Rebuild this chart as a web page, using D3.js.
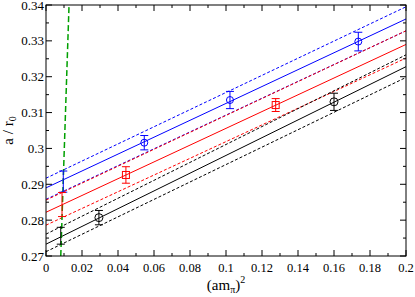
<!DOCTYPE html>
<html>
<head>
<meta charset="utf-8">
<script src="https://cdn.jsdelivr.net/npm/d3@7"></script>
<style>
  body { margin: 0; background: #fff; }
  svg { display: block; }
  text { font-family: "Liberation Serif", "DejaVu Serif", serif; }
</style>
</head>
<body>
<svg id="chart" width="415" height="297"></svg>
<script>
// measured points: [x, y, err]
const bluePts = [[0.0546, 0.3016, 0.0020], [0.1022, 0.3135, 0.0024], [0.1735, 0.3298, 0.0026]];
const redPts = [[0.0444, 0.2926, 0.0023], [0.1276, 0.3121, 0.0018]];
const blackPts = [[0.0294, 0.2807, 0.0020], [0.1600, 0.3130, 0.0024]];

// fit lines: [y at x=0, y at x=0.2]
const blueFit = { mid: [0.2890, 0.3361], hi: [0.2917, 0.3395], lo: [0.2858, 0.3328] };
const redFit = { mid: [0.2822, 0.3290], hi: [0.2856, 0.3328], lo: [0.2786, 0.3252] };
const blackFit = { mid: [0.2733, 0.3228], hi: [0.2761, 0.3261], lo: [0.2712, 0.3198] };

// extrapolated values at physical pion mass
const extrap = [
  { x: 0.0096, lo: 0.2878, hi: 0.2937, color: "#0000ff" },
  { x: 0.0089, lo: 0.2810, hi: 0.2877, color: "#ff0000" },
  { x: 0.0082, lo: 0.2733, hi: 0.2780, color: "#000000" }
];

const greenLine = [[0.0082, 0.27], [0.0128, 0.34]];

const xTicks = [0, 0.02, 0.04, 0.06, 0.08, 0.1, 0.12, 0.14, 0.16, 0.18, 0.2];
const yTicks = [0.27, 0.28, 0.29, 0.3, 0.31, 0.32, 0.33, 0.34];

const svg = d3.select("#chart");
const margin = { top: 5, right: 9, bottom: 41, left: 46 };
const width = 415, height = 297;

const x = d3.scaleLinear().domain([0, 0.2]).range([margin.left, width - margin.right]);
const y = d3.scaleLinear().domain([0.27, 0.34]).range([height - margin.bottom, margin.top]);

svg.append("clipPath").attr("id", "clip").append("rect")
  .attr("x", x(0)).attr("y", y(0.34)).attr("width", x(0.2) - x(0)).attr("height", y(0.27) - y(0.34));

const plot = svg.append("g").attr("clip-path", "url(#clip)");

function drawFit(fit, color) {
  const lines = [["mid", null], ["hi", "3,2"], ["lo", "3,2"]];
  for (const [k, dash] of lines) {
    plot.append("line")
      .attr("x1", x(0)).attr("y1", y(fit[k][0]))
      .attr("x2", x(0.2)).attr("y2", y(fit[k][1]))
      .attr("stroke", color).attr("stroke-width", 1)
      .attr("stroke-dasharray", dash);
  }
}
drawFit(blueFit, "#0000ff");
drawFit(redFit, "#ff0000");
drawFit(blackFit, "#000000");

plot.append("line")
  .attr("x1", x(greenLine[0][0])).attr("y1", y(greenLine[0][1]))
  .attr("x2", x(greenLine[1][0])).attr("y2", y(greenLine[1][1]))
  .attr("stroke", "#00a000").attr("stroke-width", 1.5).attr("stroke-dasharray", "6,3");

function errBar(g, xv, lo, hi, color) {
  g.append("line").attr("x1", x(xv)).attr("x2", x(xv)).attr("y1", y(lo)).attr("y2", y(hi))
    .attr("stroke", color).attr("stroke-width", 1);
  for (const v of [lo, hi]) {
    g.append("line").attr("x1", x(xv) - 4).attr("x2", x(xv) + 4).attr("y1", y(v)).attr("y2", y(v))
      .attr("stroke", color).attr("stroke-width", 1);
  }
}

for (const e of extrap) errBar(plot, e.x, e.lo, e.hi, e.color);

function drawPts(pts, color, shape) {
  for (const [xv, yv, er] of pts) {
    errBar(plot, xv, yv - er, yv + er, color);
    if (shape === "square") {
      plot.append("rect").attr("x", x(xv) - 3.5).attr("y", y(yv) - 3.5).attr("width", 7).attr("height", 7)
        .attr("fill", "none").attr("stroke", color).attr("stroke-width", 1);
    } else {
      plot.append("circle").attr("cx", x(xv)).attr("cy", y(yv)).attr("r", shape === "small" ? 3.5 : 4)
        .attr("fill", "none").attr("stroke", color).attr("stroke-width", 1);
    }
  }
}
drawPts(bluePts, "#0000ff", "small");
drawPts(redPts, "#ff0000", "square");
drawPts(blackPts, "#000000", "circle");

// axes frame
const axes = svg.append("g");
axes.append("rect").attr("x", x(0)).attr("y", y(0.34)).attr("width", x(0.2) - x(0)).attr("height", y(0.27) - y(0.34))
  .attr("fill", "none").attr("stroke", "#000").attr("stroke-width", 1);

const xMinor = d3.range(0, 0.2001, 0.01);
const yMinor = d3.range(0.27, 0.34001, 0.005);

for (const v of xMinor) {
  const major = xTicks.some(t => Math.abs(t - v) < 1e-6);
  const len = major ? 6 : 3;
  axes.append("line").attr("x1", x(v)).attr("x2", x(v)).attr("y1", y(0.27)).attr("y2", y(0.27) - len).attr("stroke", "#000");
  axes.append("line").attr("x1", x(v)).attr("x2", x(v)).attr("y1", y(0.34)).attr("y2", y(0.34) + len).attr("stroke", "#000");
}
for (const v of yMinor) {
  const major = yTicks.some(t => Math.abs(t - v) < 1e-6);
  const len = major ? 6 : 3;
  axes.append("line").attr("x1", x(0)).attr("x2", x(0) + len).attr("y1", y(v)).attr("y2", y(v)).attr("stroke", "#000");
  axes.append("line").attr("x1", x(0.2)).attr("x2", x(0.2) - len).attr("y1", y(v)).attr("y2", y(v)).attr("stroke", "#000");
}

axes.selectAll(".xl").data(xTicks).join("text")
  .attr("x", d => x(d)).attr("y", y(0.27) + 16)
  .attr("text-anchor", "middle").attr("font-size", 12.5)
  .text(d => d === 0 ? "0" : String(d));

axes.selectAll(".yl").data(yTicks).join("text")
  .attr("x", x(0) - 2).attr("y", d => y(d) + 4.5)
  .attr("text-anchor", "end").attr("font-size", 13)
  .text(d => d.toFixed(d === 0.3 ? 1 : 2));

const xl = svg.append("text").attr("x", (x(0) + x(0.2)) / 2).attr("y", 290)
  .attr("text-anchor", "middle").attr("font-size", 15);
xl.append("tspan").text("(am");
xl.append("tspan").attr("font-size", 10).attr("dy", 3).text("π");
xl.append("tspan").attr("dy", -3).text(")");
xl.append("tspan").attr("font-size", 10).attr("dy", -7).text("2");

const yl = svg.append("text").attr("transform", `translate(13,${(y(0.27) + y(0.34)) / 2}) rotate(-90)`)
  .attr("text-anchor", "middle").attr("font-size", 15);
yl.append("tspan").text("a / r");
yl.append("tspan").attr("font-size", 10).attr("dy", 3).text("0");
</script>
</body>
</html>
